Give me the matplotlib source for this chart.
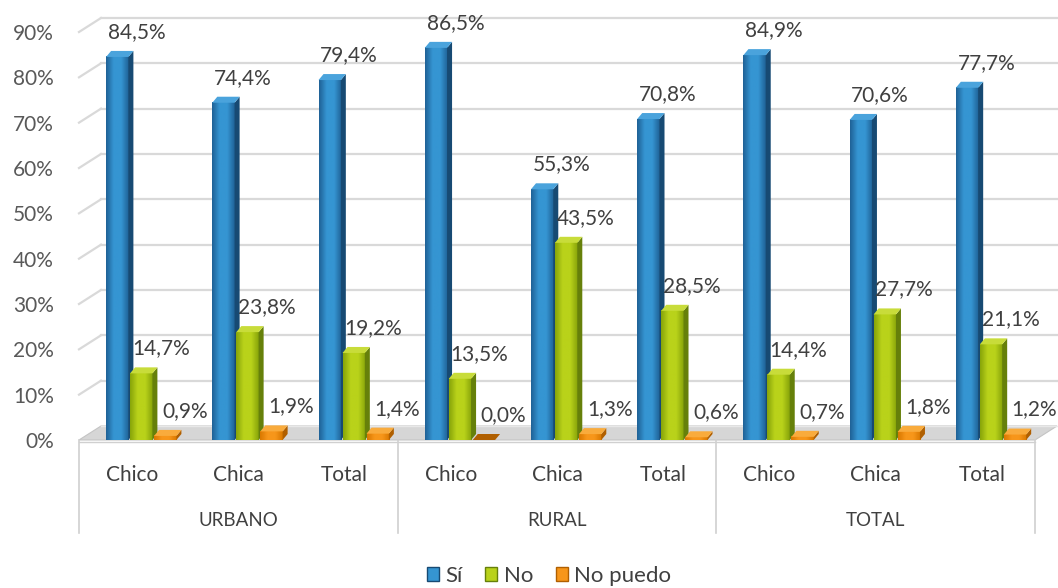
import matplotlib.pyplot as plt
import matplotlib.transforms as mtrans
from matplotlib.patches import Polygon, Patch
from matplotlib.colors import LinearSegmentedColormap
import numpy as np

plt.rcParams['font.family'] = ['Lato', 'DejaVu Sans']

categories = ['Chico', 'Chica', 'Total'] * 3
groups = ['URBANO', 'RURAL', 'TOTAL']
series = ['Sí', 'No', 'No puedo']
si = [84.5, 74.4, 79.4, 86.5, 55.3, 70.8, 84.9, 70.6, 77.7]
no = [14.7, 23.8, 19.2, 13.5, 43.5, 28.5, 14.4, 27.7, 21.1]
no_puedo = [0.9, 1.9, 1.4, 0.0, 1.3, 0.6, 0.7, 1.8, 1.2]
yticks = list(range(0, 100, 10))

# colours: (front dark edge, front light middle, side, top)
styles = [
    ('#1f6196', '#3595d2', '#174a73', '#4aa3dc'),
    ('#87a40a', '#b9d21a', '#66800a', '#c8dc3a'),
    ('#d97800', '#f7961a', '#b05f00', '#f9ab3c'),
]

W, H = 1058, 588
fig = plt.figure(figsize=(W / 100, H / 100), dpi=100)
left, right, bot, top = 79, 1035, 440, 32
ax = fig.add_axes([left / W, 1 - bot / H, (right - left) / W, (bot - top) / H])
ax.set_xlim(-0.5, 8.5)
ax.set_ylim(0, 90)

ux = 9 / (right - left)      # data units per pixel, x
uy = 90 / (bot - top)        # data units per pixel, y
dxw, dyw = 22 * ux, 14 * uy  # wall depth
dxb, dyb = 5 * ux, 6 * uy    # bar depth

# walls: gridlines on back wall and left wall
for v in yticks[1:]:
    ax.plot([-0.5 + dxw, 8.5 + dxw], [v + dyw, v + dyw], color='#d9d9d9',
            lw=1.6, clip_on=False, zorder=1)
    ax.plot([-0.5, -0.5 + dxw], [v, v + dyw], color='#d9d9d9',
            lw=1.6, clip_on=False, zorder=1)

# floor
floor = Polygon([[-0.5, 0], [8.5, 0], [8.5 + dxw, dyw], [-0.5 + dxw, dyw]],
                closed=True, facecolor='#d6d6d6', edgecolor='#c4c4c4',
                lw=0.8, clip_on=False, zorder=2)
ax.add_patch(floor)
ax.plot([-0.5 + dxw, 8.5 + dxw], [dyw, dyw], color='#e8e8e8', lw=1,
        clip_on=False, zorder=2)

offsets = [-0.14, 0.086, 0.312]
bw = 0.21
values = [si, no, no_puedo]
xs = np.arange(len(categories))
z = 3
for s, vals in enumerate(values):
    edge, mid, side, topc = styles[s]
    cmap = LinearSegmentedColormap.from_list('c', [edge, mid, mid, edge])
    grad = np.linspace(0, 1, 64).reshape(1, -1)
    for i, h in enumerate(vals):
        x0 = xs[i] + offsets[s] - bw / 2
        x1 = x0 + bw
        if h > 0:
            ax.imshow(grad, extent=[x0, x1, 0, h], cmap=cmap, aspect='auto',
                      zorder=z, interpolation='bilinear')
        ax.add_patch(Polygon([[x1, 0], [x1 + dxb, dyb], [x1 + dxb, h + dyb], [x1, h]],
                             closed=True, facecolor=side, edgecolor='none', zorder=z))
        tc = topc if h > 0 else side
        ax.add_patch(Polygon([[x0, h], [x1, h], [x1 + dxb, h + dyb], [x0 + dxb, h + dyb]],
                             closed=True, facecolor=tc, edgecolor='none', zorder=z))
        ax.annotate(f'{h:.1f}%'.replace('.', ','), (x0 + bw / 2, h),
                    xytext=(14, 18), textcoords='offset points',
                    ha='center', va='center', fontsize=15, color='#404040',
                    zorder=20, annotation_clip=False)
        z += 1

ax.set_xlim(-0.5, 8.5)
ax.set_ylim(0, 90)
for sp in ax.spines.values():
    sp.set_visible(False)
ax.set_xticks([])
ax.set_yticks(yticks)
ax.set_yticklabels([f'{v}%' for v in yticks], fontsize=15, color='#595959')
ax.tick_params(axis='y', length=0, pad=18)

# category axis
tr = mtrans.blended_transform_factory(ax.transData, fig.transFigure)
ax.plot([-0.5, 8.5], [1 - 442 / H] * 2, color='#d0d0d0', lw=1,
        transform=tr, clip_on=False)
for xd in [-0.5, 2.5, 5.5, 8.5]:
    ax.plot([xd, xd], [1 - 440 / H, 1 - 533 / H], color='#d0d0d0', lw=1.2,
            transform=tr, clip_on=False)
for i, c in enumerate(categories):
    ax.text(xs[i], 1 - 475 / H, c, transform=tr, ha='center', va='center',
            fontsize=15, color='#404040')
for g, name in enumerate(groups):
    ax.text(3 * g + 1, 1 - 520 / H, name, transform=tr, ha='center',
            va='center', fontsize=13.5, color='#404040')

handles = [Patch(facecolor=styles[k][1], edgecolor=styles[k][2], label=series[k])
           for k in range(3)]
fig.legend(handles=handles, loc='center', bbox_to_anchor=(549 / W, 1 - 576 / H),
           ncol=3, frameon=False, fontsize=16, handlelength=0.55,
           handleheight=0.55, handletextpad=0.3, columnspacing=1.0,
           labelcolor='#404040')

fig.savefig('out.png', dpi=100)
